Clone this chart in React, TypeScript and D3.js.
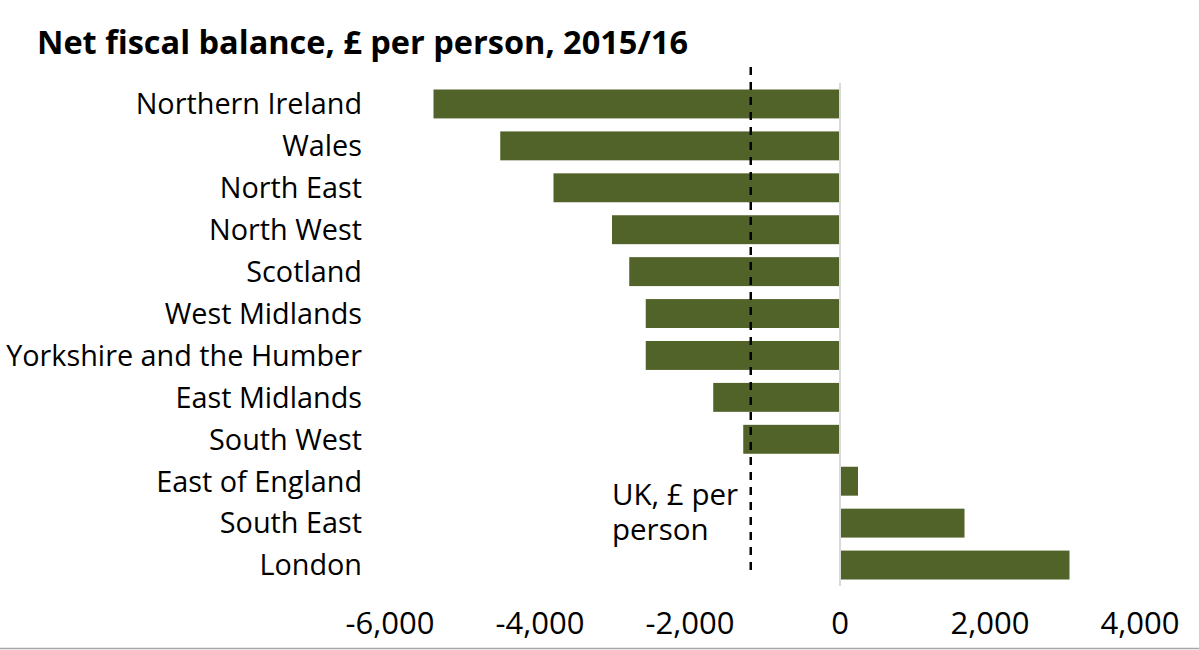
// App.tsx
import React, { useEffect, useRef } from "react";
import * as d3 from "d3";

const regions = [
  "Northern Ireland",
  "Wales",
  "North East",
  "North West",
  "Scotland",
  "West Midlands",
  "Yorkshire and the Humber",
  "East Midlands",
  "South West",
  "East of England",
  "South East",
  "London",
];
const balance = [
  -5420, -4530, -3820, -3040, -2810, -2590, -2590, -1690, -1290, 240, 1660, 3060,
];
const ukAverage = -1190;
const xTicks = [-6000, -4000, -2000, 0, 2000, 4000];

const W = 1200;
const H = 650;
const FONT = "'Open Sans', 'Noto Sans', sans-serif";

const App = () => {
  const ref = useRef<SVGSVGElement | null>(null);

  useEffect(() => {
    const svg = d3.select(ref.current);
    svg.selectAll("*").remove();

    const data = regions.map((r, i) => ({ region: r, value: balance[i] }));

    const x = d3.scaleLinear().domain([-6000, 4000]).range([390, 1140]);
    const y = d3
      .scaleBand<string>()
      .domain(regions)
      .range([83, 586])
      .paddingInner(0.31)
      .paddingOuter(0.155);

    svg.append("rect").attr("width", W).attr("height", H).attr("fill", "#fff");

    // title
    svg
      .append("text")
      .attr("x", 37)
      .attr("y", 54)
      .style("font-family", FONT)
      .style("font-weight", "bold")
      .style("font-size", "32.5px")
      .attr("fill", "#000")
      .text("Net fiscal balance, £ per person, 2015/16");

    // bars
    svg
      .append("g")
      .selectAll("rect")
      .data(data)
      .join("rect")
      .attr("x", (d) => x(Math.min(0, d.value)))
      .attr("y", (d) => y(d.region)!)
      .attr("width", (d) => Math.abs(x(d.value) - x(0)))
      .attr("height", y.bandwidth())
      .attr("fill", "#52632a");

    // zero line
    svg
      .append("line")
      .attr("x1", x(0))
      .attr("x2", x(0))
      .attr("y1", 83)
      .attr("y2", 586)
      .attr("stroke", "#d9d9d9")
      .attr("stroke-width", 2);

    // UK average dashed line
    svg
      .append("line")
      .attr("x1", x(ukAverage))
      .attr("x2", x(ukAverage))
      .attr("y1", 67)
      .attr("y2", 572)
      .attr("stroke", "#000")
      .attr("stroke-width", 2.5)
      .attr("stroke-dasharray", "8,7");

    const ukLabel = svg
      .append("text")
      .attr("x", 612)
      .attr("y", 505)
      .style("font-family", FONT)
      .style("font-size", "29.5px")
      .attr("fill", "#000");
    ukLabel.append("tspan").attr("x", 612).text("UK, £ per");
    ukLabel.append("tspan").attr("x", 612).attr("dy", 35).text("person");

    // category labels
    svg
      .append("g")
      .selectAll("text")
      .data(regions)
      .join("text")
      .attr("x", 362)
      .attr("y", (d) => y(d)! + y.bandwidth() / 2)
      .attr("dy", "0.36em")
      .attr("text-anchor", "end")
      .style("font-family", FONT)
      .style("font-size", "28.8px")
      .attr("fill", "#000")
      .text((d) => d);

    // x tick labels
    svg
      .append("g")
      .selectAll("text")
      .data(xTicks)
      .join("text")
      .attr("x", (d) => x(d))
      .attr("y", 634)
      .attr("text-anchor", "middle")
      .style("font-family", FONT)
      .style("font-size", "31px")
      .attr("fill", "#000")
      .text((d) => d3.format(",")(d).replace("−", "-"));

    // frame edges
    svg
      .append("line")
      .attr("x1", 0)
      .attr("x2", W)
      .attr("y1", 648.5)
      .attr("y2", 648.5)
      .attr("stroke", "#a6a6a6")
      .attr("stroke-width", 1.5);
    svg
      .append("line")
      .attr("x1", 1199.5)
      .attr("x2", 1199.5)
      .attr("y1", 0)
      .attr("y2", H)
      .attr("stroke", "#d0d0d0")
      .attr("stroke-width", 1);
  }, []);

  return (
    <svg
      ref={ref}
      width={W}
      height={H}
      style={{ position: "absolute", left: 0, top: 0 }}
    />
  );
};

export default App;
